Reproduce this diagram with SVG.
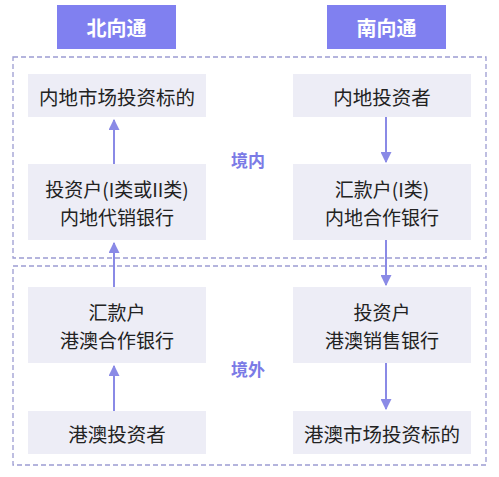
<svg xmlns="http://www.w3.org/2000/svg" width="499" height="477" viewBox="0 0 499 477">
<style>
.hdr{fill:#8080f0}
.hdrt{fill:#ffffff;font-family:"Noto Sans CJK SC","Noto Sans",sans-serif;font-size:20px;font-weight:bold;text-anchor:middle;dominant-baseline:central}
.node{fill:#ededf6}
.nt{fill:#222222;font-family:"Noto Sans CJK SC","Noto Sans",sans-serif;font-size:19.5px;text-anchor:middle;dominant-baseline:central}
.nt2{fill:#222222;font-family:"Noto Sans CJK SC","Noto Sans",sans-serif;font-size:19px;text-anchor:middle;dominant-baseline:central}
.zone{fill:none;stroke:#9c9cd2;stroke-width:1.3;stroke-dasharray:5 3}
.zl{fill:#7b7be6;font-family:"Noto Sans CJK SC","Noto Sans",sans-serif;font-size:17px;font-weight:bold;text-anchor:middle;dominant-baseline:central}
.conn{stroke:#8a8ae6;stroke-width:2;fill:none}
</style>
<defs>
<marker id="ah" viewBox="0 0 10 10" refX="9" refY="5" markerWidth="11" markerHeight="11" markerUnits="userSpaceOnUse" orient="auto">
<path d="M0,0 L10,5 L0,10 Z" fill="#8a8ae6"/>
</marker>
</defs>
<rect width="499" height="477" fill="#ffffff"/>
<g id="zones">
<rect class="zone" x="13" y="57" width="473" height="201"/>
<rect class="zone" x="13" y="266" width="473" height="199"/>
<text class="zl" x="248" y="159">境内</text>
<text class="zl" x="248" y="368">境外</text>
</g>
<g id="header-north"><rect class="hdr" x="57" y="5" width="119" height="44"/><text class="hdrt" x="116.5" y="27">北向通</text></g>
<g id="header-south"><rect class="hdr" x="327" y="5" width="119" height="44"/><text class="hdrt" x="386.5" y="27">南向通</text></g>
<g id="n1"><rect class="node" x="28" y="74" width="178" height="43"/><text class="nt" x="117" y="96">内地市场投资标的</text></g>
<g id="n2"><rect class="node" x="28" y="164" width="178" height="76"/><text class="nt2" x="117" y="188.6">投资户(I类或II类)</text><text class="nt2" x="117" y="216.4">内地代销银行</text></g>
<g id="n3"><rect class="node" x="28" y="287" width="178" height="76"/><text class="nt2" x="117" y="311.6">汇款户</text><text class="nt2" x="117" y="339.4">港澳合作银行</text></g>
<g id="n4"><rect class="node" x="28" y="411" width="178" height="43"/><text class="nt" x="117" y="433">港澳投资者</text></g>
<g id="s1"><rect class="node" x="293" y="74" width="178" height="43"/><text class="nt" x="382" y="96">内地投资者</text></g>
<g id="s2"><rect class="node" x="293" y="164" width="178" height="76"/><text class="nt2" x="382" y="188.6">汇款户(I类)</text><text class="nt2" x="382" y="216.4">内地合作银行</text></g>
<g id="s3"><rect class="node" x="293" y="287" width="178" height="76"/><text class="nt2" x="382" y="311.6">投资户</text><text class="nt2" x="382" y="339.4">港澳销售银行</text></g>
<g id="s4"><rect class="node" x="293" y="411" width="178" height="43"/><text class="nt" x="382" y="433">港澳市场投资标的</text></g>
<g id="connectors">
<line class="conn" x1="114" y1="164" x2="114" y2="120" marker-end="url(#ah)"/>
<line class="conn" x1="114" y1="287" x2="114" y2="243" marker-end="url(#ah)"/>
<line class="conn" x1="114" y1="411" x2="114" y2="366" marker-end="url(#ah)"/>
<line class="conn" x1="386" y1="117" x2="386" y2="162" marker-end="url(#ah)"/>
<line class="conn" x1="386" y1="240" x2="386" y2="285" marker-end="url(#ah)"/>
<line class="conn" x1="386" y1="363" x2="386" y2="409" marker-end="url(#ah)"/>
</g>
</svg>
